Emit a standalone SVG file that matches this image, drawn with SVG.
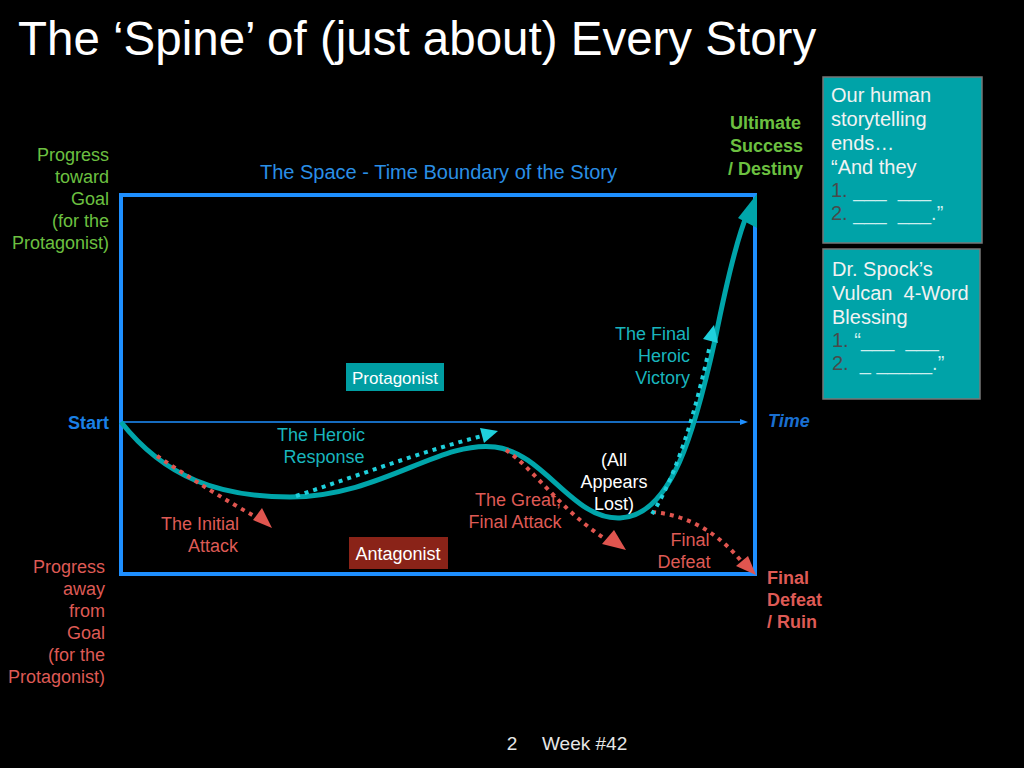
<svg xmlns="http://www.w3.org/2000/svg" width="1024" height="768" viewBox="0 0 1024 768">
<style>
text{font-family:"Liberation Sans",Helvetica,Arial,sans-serif}
.t18{font-size:18px}
.green{fill:#6cc040}
.red{fill:#de5a55}
.cyan{fill:#19b5bd}
.white{fill:#ffffff}
.bold{font-weight:bold}
.box{font-size:20px;fill:#f2f2f2;white-space:pre}
.num{fill:#4a4a4a}
.dotR{fill:none;stroke:#e0554f;stroke-width:4;stroke-dasharray:4 5}
.dotC{fill:none;stroke:#1fd0dc;stroke-width:4;stroke-dasharray:4 5}
</style>
<defs>
<marker id="ar" markerWidth="8" markerHeight="8" refX="4" refY="4" orient="auto" markerUnits="userSpaceOnUse" viewBox="0 0 8 8"><path d="M0,1 L8,4 L0,7 z" fill="#1e8fff"/></marker>
</defs>
<rect width="1024" height="768" fill="#000"/>
<text x="18" y="55" font-size="47.5" fill="#fff">The ‘Spine’ of (just about) Every Story</text>

<g id="boundary">
<rect x="121" y="195" width="634" height="379" fill="none" stroke="#1e8fff" stroke-width="4"/>
<text x="260" y="179" font-size="20" textLength="357" fill="#2a8fe6">The Space - Time Boundary of the Story</text>
</g>

<g id="axis">
<line x1="121" y1="422" x2="744" y2="422" stroke="#1e8fff" stroke-width="1.5" marker-end="url(#ar)"/>
<text x="68" y="429" class="t18 bold" fill="#1a80e6">Start</text>
<text x="768" y="427" class="t18 bold" font-style="italic" fill="#1a6fd0">Time</text>
</g>

<g id="yaxis-labels">
<text text-anchor="end" class="t18 green"><tspan x="109" y="161">Progress</tspan><tspan x="109" y="183">toward</tspan><tspan x="109" y="205">Goal</tspan><tspan x="109" y="227">(for the</tspan><tspan x="109" y="249">Protagonist)</tspan></text>
<text text-anchor="end" class="t18 red"><tspan x="105" y="573">Progress</tspan><tspan x="105" y="595">away</tspan><tspan x="105" y="617">from</tspan><tspan x="105" y="639">Goal</tspan><tspan x="105" y="661">(for the</tspan><tspan x="105" y="683">Protagonist)</tspan></text>
<text text-anchor="end" class="t18 green bold"><tspan x="801" y="129">Ultimate</tspan><tspan x="803" y="152">Success</tspan><tspan x="803" y="175">/ Destiny</tspan></text>
<text class="t18 red bold"><tspan x="767" y="584">Final</tspan><tspan x="767" y="606">Defeat</tspan><tspan x="767" y="628">/ Ruin</tspan></text>
</g>

<g id="connectors">
<path id="spine" d="M121,422 C165,478 220,497 290,497 C380,497 440,440 495,447 C545,453 572,520 620,518 C672,516 695,430 715,340 C728,275 738,235 748,212" fill="none" stroke="#00a5aa" stroke-width="5"/>
<path d="M738,218 L757,194 L757,228 z" fill="#00a5aa"/>
<path class="dotR" d="M157,456 C190,478 225,500 256,517"/>
<path d="M253,520 L262,508 L272,528 z" fill="#e0554f"/>
<path class="dotR" d="M506,450 C535,470 560,510 607,540"/>
<path d="M602,544 L614,530 L626,550 z" fill="#e0554f"/>
<path class="dotR" d="M652,512 C690,515 720,535 742,562"/>
<path d="M736,566 L748,556 L756,575 z" fill="#e0554f"/>
<path class="dotC" d="M296,496 C360,475 420,452 482,436"/>
<path d="M480,428 L498,431 L484,443 z" fill="#1fd0dc"/>
<path class="dotC" d="M652,514 C680,470 698,400 710,345"/>
<path d="M703,339 L714,325 L718,343 z" fill="#1fd0dc"/>
</g>

<g id="protagonist">
<rect x="346" y="363" width="98" height="28" fill="#009ea3"/>
<text x="395" y="384" text-anchor="middle" font-size="17" class="white">Protagonist</text>
</g>
<g id="antagonist">
<rect x="349" y="537" width="99" height="32" fill="#8a2318"/>
<text x="398" y="560" text-anchor="middle" class="t18 white">Antagonist</text>
</g>

<g id="labels">
<text text-anchor="middle" class="t18 cyan"><tspan x="321" y="441">The Heroic</tspan><tspan x="324" y="463">Response</tspan></text>
<text text-anchor="middle" class="t18 red"><tspan x="200" y="530">The Initial</tspan><tspan x="213" y="552">Attack</tspan></text>
<text text-anchor="middle" class="t18 red"><tspan x="518" y="506">The Great,</tspan><tspan x="515" y="528">Final Attack</tspan></text>
<text text-anchor="middle" class="t18 white"><tspan x="614" y="466">(All</tspan><tspan x="614" y="488">Appears</tspan><tspan x="614" y="510">Lost)</tspan></text>
<text text-anchor="middle" class="t18 red"><tspan x="690" y="546">Final</tspan><tspan x="684" y="568">Defeat</tspan></text>
<text text-anchor="end" class="t18 cyan"><tspan x="690" y="340">The Final</tspan><tspan x="690" y="362">Heroic</tspan><tspan x="690" y="384">Victory</tspan></text>
</g>

<g id="box-endings">
<rect x="823" y="77" width="159" height="166" fill="#00a3a8" stroke="#777" stroke-width="1.5"/>
<text class="box"><tspan x="831" y="102">Our human</tspan><tspan x="831" y="126">storytelling</tspan><tspan x="831" y="150">ends…</tspan><tspan x="831" y="174">“And they</tspan></text>
<text class="box"><tspan x="831" y="197" class="num">1.</tspan><tspan fill="#cdeeee"> ___  ___</tspan></text>
<text class="box"><tspan x="831" y="220" class="num">2.</tspan><tspan fill="#cdeeee"> ___  ___.”</tspan></text>
</g>

<g id="box-spock">
<rect x="823" y="249" width="157" height="150" fill="#00a3a8" stroke="#777" stroke-width="1.5"/>
<text class="box"><tspan x="832" y="276">Dr. Spock’s</tspan><tspan x="832" y="300">Vulcan  4-Word</tspan><tspan x="832" y="324">Blessing</tspan></text>
<text class="box"><tspan x="832" y="347" class="num">1.</tspan><tspan fill="#cdeeee"> “___  ___</tspan></text>
<text class="box"><tspan x="832" y="370" class="num">2.</tspan><tspan fill="#cdeeee">  _ _____.”</tspan></text>
</g>

<g id="footer">
<text x="512" y="750" text-anchor="middle" font-size="19" fill="#e6e6e6">2</text>
<text x="542" y="750" font-size="19" fill="#e6e6e6">Week #42</text>
</g>
</svg>
